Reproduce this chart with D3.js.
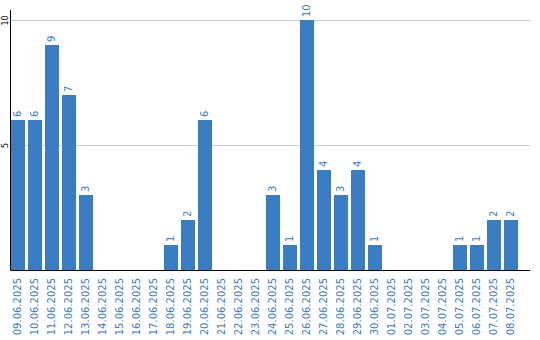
<!DOCTYPE html>
<html>
<head>
<meta charset="utf-8">
<script src="https://cdn.jsdelivr.net/npm/d3@7"></script>
<style>
	body { margin: 0; background: #fff; }
	text { font-family: "DejaVu Sans", Verdana, sans-serif; }
</style>
</head>
<body>
<div id="chart"></div>
<script>
const dates = [
	"09.06.2025", "10.06.2025", "11.06.2025", "12.06.2025", "13.06.2025",
	"14.06.2025", "15.06.2025", "16.06.2025", "17.06.2025", "18.06.2025",
	"19.06.2025", "20.06.2025", "21.06.2025", "22.06.2025", "23.06.2025",
	"24.06.2025", "25.06.2025", "26.06.2025", "27.06.2025", "28.06.2025",
	"29.06.2025", "30.06.2025", "01.07.2025", "02.07.2025", "03.07.2025",
	"04.07.2025", "05.07.2025", "06.07.2025", "07.07.2025", "08.07.2025",
];
const counts = [6, 6, 9, 7, 3, 0, 0, 0, 0, 1, 2, 6, 0, 0, 0, 3, 1, 10, 4, 3, 4, 1, 0, 0, 0, 0, 1, 1, 2, 2];
const y_ticks = [5, 10];

const svg_dimensions = { width: 540, height: 340 };
const plot = { left: 10.5, right: 530, top: 10, bottom: 270.5 };
const bar_color = "#3b7dc3";

const svg = d3.select("#chart")
	.append("svg")
		.attr("width", svg_dimensions.width)
		.attr("height", svg_dimensions.height);

const x = d3.scaleBand()
	.domain(dates)
	.range([11, 518])
	.paddingInner(3 / 17)
	.paddingOuter(0);

const y = d3.scaleLinear()
	.domain([0, 10.4])
	.range([plot.bottom - 0.5, plot.top]);

// grid lines
svg.append("g")
	.selectAll("line")
	.data(y_ticks)
	.join("line")
		.attr("x1", plot.left)
		.attr("x2", plot.right)
		.attr("y1", d => Math.round(y(d)) + 0.5)
		.attr("y2", d => Math.round(y(d)) + 0.5)
		.attr("stroke", "#cccccc")
		.attr("stroke-width", 1);

// y tick labels
svg.append("g")
	.selectAll("text")
	.data(y_ticks)
	.join("text")
		.attr("transform", d => "translate(5," + (Math.round(y(d)) + 0.5) + ") rotate(-90)")
		.attr("text-anchor", "middle")
		.attr("dominant-baseline", "middle")
		.attr("font-size", 8)
		.attr("fill", "#000")
		.text(d => d);

// bars
svg.append("g")
	.selectAll("rect")
	.data(counts)
	.join("rect")
		.attr("x", (d, i) => x(dates[i]))
		.attr("y", d => y(d))
		.attr("width", x.bandwidth())
		.attr("height", d => y(0) - y(d))
		.attr("fill", bar_color);

// value labels, only for non-empty days
const labelled = counts.map((d, i) => ({ date: dates[i], value: d })).filter(d => d.value > 0);
svg.append("g")
	.selectAll("text")
	.data(labelled)
	.join("text")
		.attr("transform", d => "translate(" + (x(d.date) + x.bandwidth() / 2) + "," + (y(d.value) - 3) + ") rotate(-90)")
		.attr("text-anchor", "start")
		.attr("dominant-baseline", "middle")
		.attr("font-size", 10)
		.attr("fill", bar_color)
		.text(d => d.value);

// axes lines
svg.append("line")
	.attr("x1", plot.left).attr("x2", plot.left)
	.attr("y1", plot.top).attr("y2", plot.bottom)
	.attr("stroke", "#000").attr("stroke-width", 1);
svg.append("line")
	.attr("x1", plot.left).attr("x2", plot.right)
	.attr("y1", plot.bottom).attr("y2", plot.bottom)
	.attr("stroke", "#000").attr("stroke-width", 1);

// date labels
svg.append("g")
	.selectAll("text")
	.data(dates)
	.join("text")
		.attr("transform", d => "translate(" + (x(d) + x.bandwidth() / 2) + ",278) rotate(-90)")
		.attr("text-anchor", "end")
		.attr("dominant-baseline", "middle")
		.attr("font-size", 10)
		.attr("fill", bar_color)
		.text(d => d);
</script>
</body>
</html>
